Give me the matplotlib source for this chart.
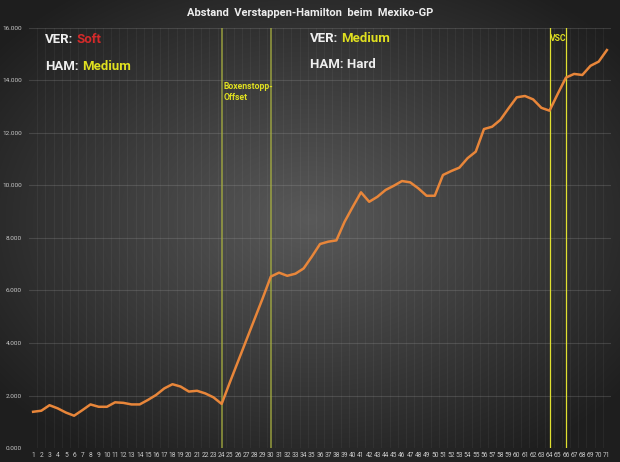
import matplotlib
matplotlib.use("Agg")
import matplotlib.pyplot as plt
import matplotlib.ticker as ticker
import numpy as np

# Gap Verstappen -> Hamilton per lap (seconds)
laps = list(range(1, 72))
gap = [1.38, 1.42, 1.63, 1.51, 1.35, 1.23, 1.44, 1.66, 1.57, 1.57,
       1.74, 1.72, 1.66, 1.66, 1.83, 2.02, 2.27, 2.43, 2.34, 2.15,
       2.18, 2.08, 1.93, 1.68, 2.50, 3.30, 4.10, 4.90, 5.70, 6.53,
       6.68, 6.56, 6.64, 6.84, 7.29, 7.77, 7.86, 7.91, 8.62, 9.19,
       9.74, 9.38, 9.57, 9.83, 9.99, 10.17, 10.12, 9.89, 9.61, 9.61,
       10.40, 10.55, 10.68, 11.04, 11.29, 12.15, 12.24, 12.50, 12.94, 13.36,
       13.41, 13.28, 12.96, 12.85, 13.49, 14.11, 14.25, 14.21, 14.56, 14.72,
       15.16]
pit_laps = [24, 30]
vsc_laps = [64, 66]
y_ticks = [0, 2, 4, 6, 8, 10, 12, 14, 16]

plt.rcParams['font.family'] = ['Roboto', 'DejaVu Sans']

fig = plt.figure(figsize=(6.2, 4.62), dpi=100)

# radial gradient background
bg = fig.add_axes([0, 0, 1, 1])
gx, gy = np.meshgrid(np.linspace(-1, 1, 620), np.linspace(-1, 1, 462))
r = np.sqrt((gx * 0.95) ** 2 + (gy * 1.0 + 0.05) ** 2)
shade = np.clip(0.35 - 0.19 * r, 0.12, 0.35)
bg.imshow(np.dstack([shade, shade, shade]), aspect='auto', extent=[0, 1, 0, 1])
bg.set_axis_off()

ax = fig.add_axes([0.0468, 0.0303, 0.9387, 0.9091])
ax.patch.set_alpha(0)
for spine in ax.spines.values():
    spine.set_visible(False)

ax.set_xlim(0.5, 71.5)
ax.set_ylim(0, 16)

# faint lap lines and horizontal grid
for lap in laps:
    ax.axvline(lap + 0.5, color='#bbbbbb', lw=0.6, alpha=0.08, zorder=1)
for yv in y_ticks[1:]:
    ax.axhline(yv, color='#aaaaaa', lw=0.8, alpha=0.22, zorder=1)

for lap in pit_laps:
    ax.axvline(lap, color='#a8b040', lw=1.1, alpha=0.85, zorder=2)
for lap in vsc_laps:
    ax.axvline(lap, color='#e0e030', lw=0.9, zorder=2)

ax.plot(laps, gap, color='#e8863a', lw=1.8, zorder=3, solid_joinstyle='round')

ax.set_xticks(laps)
ax.set_xticklabels([str(l) for l in laps], fontsize=4.8, color='#c8c8c8')
ax.set_yticks(y_ticks)
ax.yaxis.set_major_formatter(ticker.FuncFormatter(lambda v, p: f"{v:.3f}"))
ax.tick_params(axis='y', labelsize=4.6, colors='#c8c8c8', length=0, pad=5)
ax.tick_params(axis='x', length=0, pad=3)

fig.text(0.5, 0.972, "Abstand  Verstappen-Hamilton  beim  Mexiko-GP",
         ha='center', va='center', fontsize=8, fontweight='bold', color='#eeeeee')


def tyre_label(x, y, driver, tyre, tyre_color):
    style = dict(fontsize=9.5, fontweight='bold', va='bottom')
    lbl = fig.text(x, y, driver, color='#eeeeee', **style)
    if tyre:
        ax.annotate(tyre, xy=(1, 0), xycoords=lbl, xytext=(2.2, 0),
                    textcoords='offset points', color=tyre_color, **style)


tyre_label(0.0726, 0.900, "VER:", "Soft", '#d42a2a')
tyre_label(0.0726, 0.842, "HAM:", "Medium", '#e0e020')
tyre_label(0.500, 0.902, "VER:", "Medium", '#e0e020')
tyre_label(0.500, 0.846, "HAM: Hard", None, None)

ax.text(24.2, 13.95, "Boxenstopp-\nOffset", fontsize=6.2, fontweight='bold',
        color='#e0e020', va='top', ha='left', linespacing=1.25)
ax.text(64.05, 15.78, "VSC", fontsize=6.2, fontweight='bold',
        color='#e0e020', va='top', ha='left')

fig.savefig("out.png", dpi=100)
